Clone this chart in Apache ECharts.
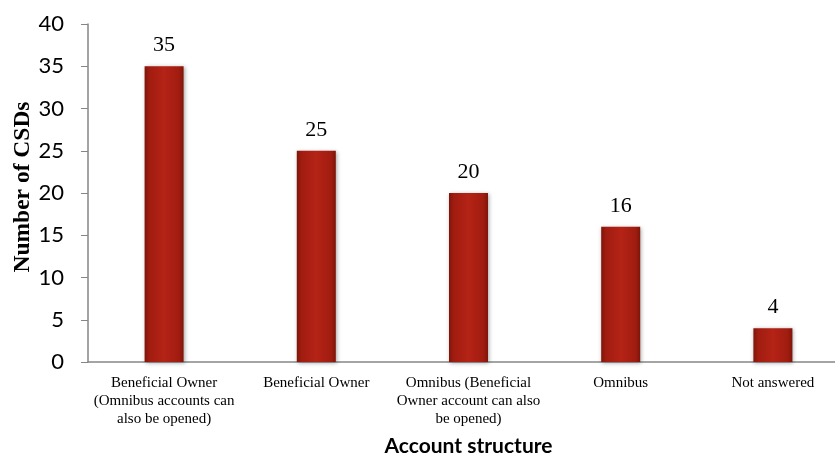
<!DOCTYPE html>
<html><head><meta charset="utf-8">
<script src="https://cdn.jsdelivr.net/npm/echarts@6/dist/echarts.min.js"></script>
<style>html,body{margin:0;padding:0;background:#fff}#c{width:835px;height:454px}</style>
</head><body><div id="c"></div>
<script>
const categories = ['Beneficial Owner (Omnibus accounts can also be opened)', 'Beneficial Owner', 'Omnibus (Beneficial Owner account can also be opened)', 'Omnibus', 'Not answered'];
const categoryLabels = ['Beneficial Owner\n(Omnibus accounts can\nalso be opened)', 'Beneficial Owner', 'Omnibus (Beneficial\nOwner account can also\nbe opened)', 'Omnibus', 'Not answered'];
const values = [35, 25, 20, 16, 4];
const yTicks = [0, 5, 10, 15, 20, 25, 30, 35, 40];

const chart = echarts.init(document.getElementById('c'));
const barColor = new echarts.graphic.LinearGradient(0, 0, 1, 0, [
  {offset: 0, color: '#7e1509'},
  {offset: 0.12, color: '#a11c10'},
  {offset: 0.5, color: '#b42316'},
  {offset: 0.88, color: '#a11c10'},
  {offset: 1, color: '#7e1509'}
]);
chart.setOption({
  animation: false,
  grid: {left: 88, right: -14, top: 24, bottom: 92, containLabel: false, outerBoundsMode: 'none'},
  xAxis: {
    type: 'category',
    data: categories,
    name: 'Account structure',
    nameLocation: 'middle',
    nameGap: 74,
    nameMoveOverlap: false,
    nameTextStyle: {fontFamily: 'Lato', fontWeight: 'bold', fontSize: 21, color: '#000'},
    axisLine: {lineStyle: {color: '#868686', width: 1.5}},
    axisTick: {show: false},
    axisLabel: {
      interval: 0,
      formatter: (v, i) => categoryLabels[i],
      fontFamily: 'Liberation Serif', fontSize: 15, lineHeight: 18, color: '#000', margin: 12
    }
  },
  yAxis: {
    type: 'value',
    min: yTicks[0], max: yTicks[yTicks.length - 1], interval: 5,
    name: 'Number of CSDs',
    nameLocation: 'middle',
    nameGap: 53,
    nameMoveOverlap: false,
    nameTextStyle: {fontFamily: 'Liberation Serif', fontWeight: 'bold', fontSize: 23.5, color: '#000', padding: [0, 0, 0, 12]},
    axisLine: {show: true, lineStyle: {color: '#868686', width: 1.5}},
    axisTick: {show: true, length: 7, lineStyle: {color: '#868686'}},
    splitLine: {show: false},
    axisLabel: {fontFamily: 'Lato', fontSize: 22, color: '#000', margin: 24}
  },
  series: [{
    type: 'bar',
    data: values,
    barWidth: 39,
    itemStyle: {color: barColor, shadowColor: 'rgba(0,0,0,0.35)', shadowBlur: 4, shadowOffsetX: 1, shadowOffsetY: 1},
    label: {show: true, position: 'top', distance: 10, fontFamily: 'Liberation Serif', fontSize: 22, color: '#000'}
  }]
});
</script></body></html>
